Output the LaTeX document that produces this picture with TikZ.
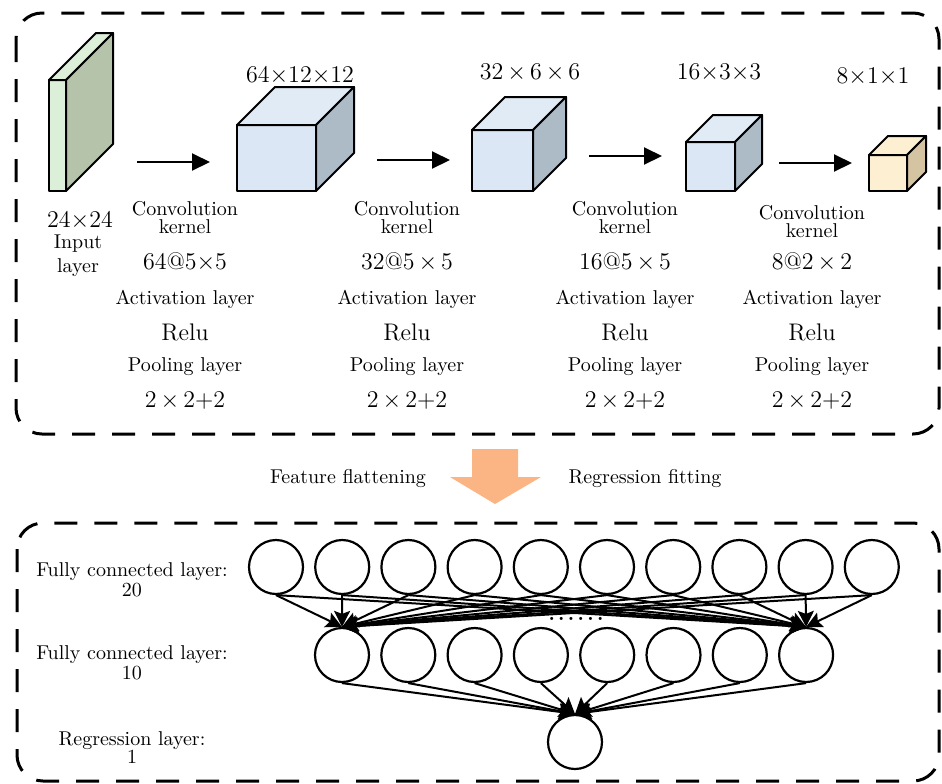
\documentclass[tikz,border=0pt]{standalone}
\usetikzlibrary{positioning}
\usetikzlibrary{calc}
\usetikzlibrary{arrows.meta}
\definecolor{slabfront}{HTML}{DCEFD9}
\definecolor{slabside}{HTML}{B4C3A9}
\definecolor{cubefront}{HTML}{DBE7F4}
\definecolor{cubetop}{HTML}{E0EBF5}
\definecolor{cubeside}{HTML}{ADBBC7}
\definecolor{lastfront}{HTML}{FDF0D2}
\definecolor{lastside}{HTML}{D5C4A1}
\definecolor{bigarrow}{HTML}{FBB584}
\tikzset{
  frame/.style   = { line width=1.5pt, dash pattern=on 11.5pt off 8.5pt, rounded corners=13pt },
  face/.style    = { draw=black, line width=1pt, line join=round },
  note/.style    = { font=\normalsize, inner sep=0pt, align=center },
  big/.style     = { font=\large, inner sep=0pt },
  flow/.style    = { -{Triangle[length=9pt,width=8.5pt]}, line width=1pt },
  neuron/.style  = { circle, draw, line width=1.1pt, minimum size=27pt, inner sep=0pt },
  link/.style    = { -{Stealth[length=8pt,width=8pt,inset=1.5pt]}, line width=1pt },
}
% x, y, width, height, depth, front, top, side
\newcommand{\featurebox}[8]{
  \draw[face,fill=#6] (#1,#2) rectangle ++(#3,#4);
  \draw[face,fill=#7] (#1,#2) -- ++(#5,-#5) -- ++(#3,0) -- ++(-#5,#5) -- cycle;
  \draw[face,fill=#8] (#1+#3,#2) -- ++(#5,-#5) -- ++(0,#4) -- ++(-#5,#5) -- cycle;
}

\begin{document}
\begin{tikzpicture}[x=0.5pt,y=-0.5pt,node distance=8mm]
  \useasboundingbox (0,0) rectangle (942,783);

  \draw[frame] (16,13) rectangle (939,434);
  \draw[frame] (17,523) rectangle (939,781);

  \featurebox{49}{80}{17}{111}{47}{slabfront}{slabfront}{slabside}
  \featurebox{237}{125}{79}{66}{38}{cubefront}{cubetop}{cubeside}
  \featurebox{472}{130}{61}{61}{33}{cubefront}{cubetop}{cubeside}
  \featurebox{686}{142}{49}{49}{27}{cubefront}{cubetop}{cubeside}
  \featurebox{869}{155}{38}{36}{19}{lastfront}{lastfront}{lastside}

  \node (s1) [big] at (300,75) {64$\times$12$\times$12};
  \node (s2) [big] at (530,73) {32\,$\times$\,6\,$\times$\,6};
  \node (s3) [big] at (719,73) {16$\times$3$\times$3};
  \node (s4) [big] at (873,77) {8$\times$1$\times$1};

  \coordinate (a1) at (137,162); \coordinate (b1) at (210,162);
  \coordinate (a2) at (377,160); \coordinate (b2) at (450,160);
  \coordinate (a3) at (589,156); \coordinate (b3) at (662,156);
  \coordinate (a4) at (779,163); \coordinate (b4) at (852,163);
  \foreach \i in {1,...,4}
    \draw[flow] (a\i) -- (b\i);

  \node (insize) [big] at (80,220) {24$\times$24};
  \node (inname) [note] at (78,256) {Input\\layer};

  \foreach \i/\cx/\cy/\kt in {1/185/218/{64@5$\times$5},
                              2/407/218/{32@5\,$\times$\,5},
                              3/625/218/{16@5\,$\times$\,5},
                              4/812/222/{8@2\,$\times$\,2}} {
    \node (conv\i) [note] at (\cx,\cy)  {Convolution\\[-3pt]kernel};
    \node (kern\i) [big]  at (\cx,262)  {\kt};
    \node (act\i)  [note] at (\cx,299)  {Activation layer};
    \node (relu\i) [big]  at (\cx,332)  {Relu};
    \node (pool\i) [note] at (\cx,367)  {Pooling layer};
    \node (size\i) [big]  at (\cx,401)  {2\,$\times$\,2+2};
  }

  \fill[bigarrow] (472,449) -- (518,449) -- (518,477) -- (541,477)
                  -- (495,504) -- (450,477) -- (472,477) -- cycle;
  \node (flat) [note] at (348,478) {Feature flattening};
  \node (fit)  [note] at (645,478) {Regression fitting};

  \foreach \i in {1,...,10}
    \node (h\i) [neuron] at ({276+66.2*(\i-1)},567) {};
  \foreach \j in {1,...,8}
    \node (m\j) [neuron] at ({342+66.3*(\j-1)},655) {};
  \node (out) [neuron] at (575,742) {};
  \node (dots) [font=\bfseries] at (576,619) {.\,.\,.\,.\,.\,.};

  \foreach \i in {1,...,10} {
    \draw[link] (h\i.south) -- (m1.north);
    \draw[link] (h\i.south) -- (m8.north);
  }
  \foreach \j in {1,...,8}
    \draw[link] (m\j.south) -- (out.north);

  \node (fc1) [note] at (132,580) {Fully connected layer:\\[-2pt]20};
  \node (fc2) [note] at (132,663) {Fully connected layer:\\[-2pt]10};
  \node (reg) [note] at (132,748) {Regression layer:\\[-3pt]1};
\end{tikzpicture}
\end{document}
